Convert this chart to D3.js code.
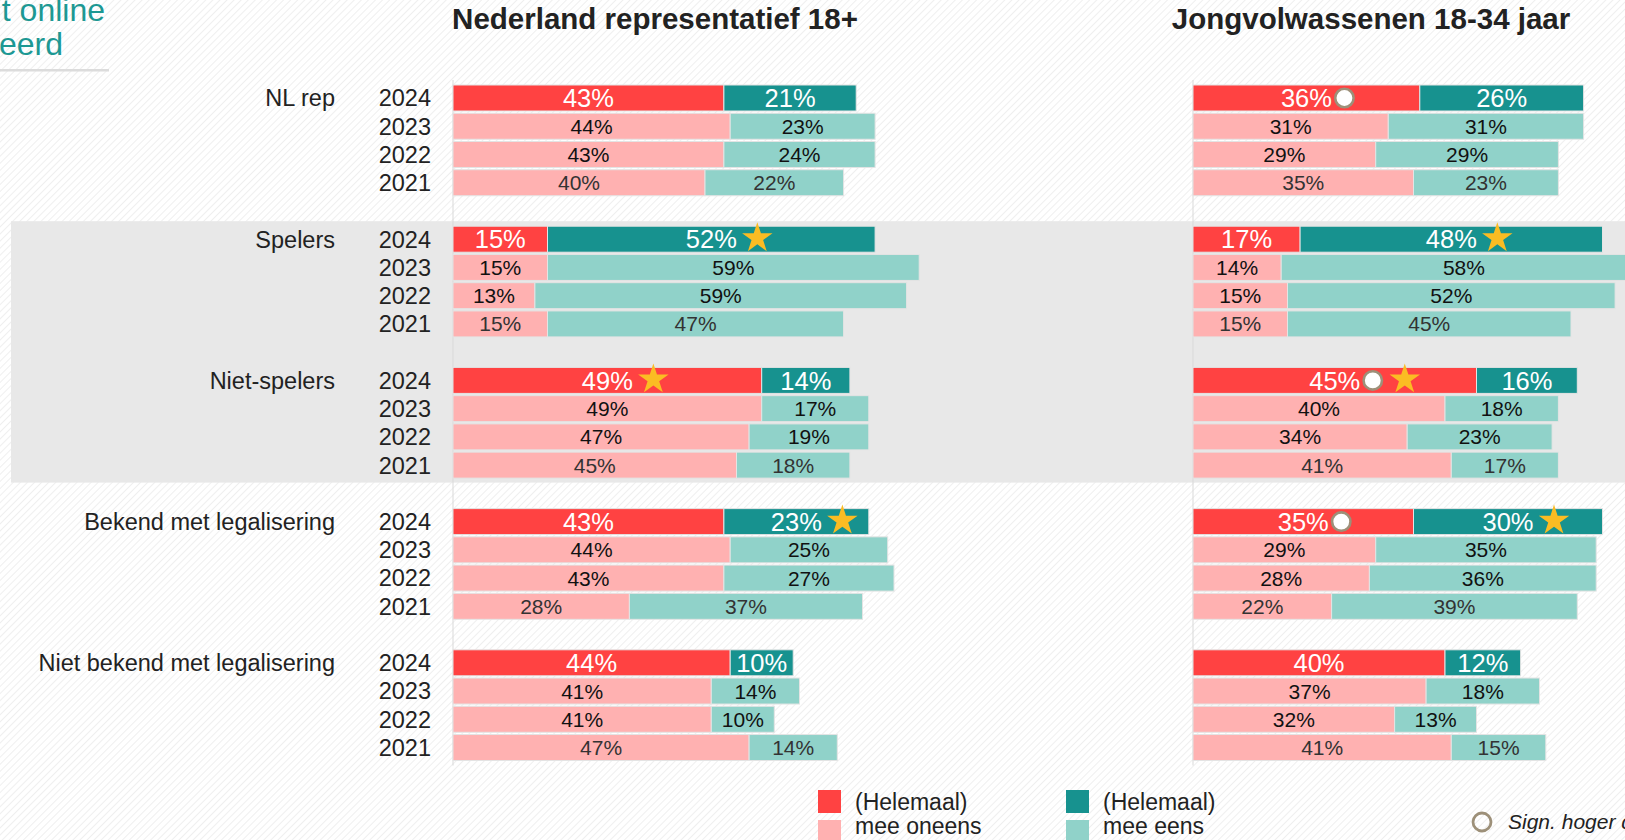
<!DOCTYPE html>
<html>
<head>
<meta charset="utf-8">
<script src="https://cdn.jsdelivr.net/npm/d3@7/dist/d3.min.js"></script>
<style>
  html, body { margin: 0; padding: 0; background: #fff; overflow: hidden; }
  svg { display: block; font-family: "Liberation Sans", Arial, sans-serif; }
</style>
</head>
<body>
<svg id="chart" width="1625" height="840"></svg>
<script>
// Stellingen per doelgroep, vier meetjaren
const groups = ["NL rep", "Spelers", "Niet-spelers", "Bekend met legalisering", "Niet bekend met legalisering"];
const years = ["2024", "2023", "2022", "2021"];
const panelTitles = ["Nederland representatief 18+", "Jongvolwassenen 18-34 jaar"];

// Nederland representatief 18+ : (helemaal) mee oneens / (helemaal) mee eens
const nlOneens = [[43, 44, 43, 40], [15, 15, 13, 15], [49, 49, 47, 45], [43, 44, 43, 28], [44, 41, 41, 47]];
const nlEens   = [[21, 23, 24, 22], [52, 59, 59, 47], [14, 17, 19, 18], [23, 25, 27, 37], [10, 14, 10, 14]];

// Jongvolwassenen 18-34 jaar
const jvOneens = [[36, 31, 29, 35], [17, 14, 15, 15], [45, 40, 34, 41], [35, 29, 28, 22], [40, 37, 32, 41]];
const jvEens   = [[26, 31, 29, 23], [48, 58, 52, 45], [16, 18, 23, 17], [30, 35, 36, 39], [12, 18, 13, 15]];

// Significantie-markeringen op de 2024-balken (groep, deel)
const nlStars   = [[1, "eens"], [2, "oneens"], [3, "eens"]];
const nlCircles = [];
const jvStars   = [[1, "eens"], [2, "oneens"], [3, "eens"]];
const jvCircles = [[0, "oneens"], [2, "oneens"], [3, "oneens"]];

const legendLabels = [["(Helemaal)", "mee oneens"], ["(Helemaal)", "mee eens"]];
const circleLegend = "Sign. hoger dan 2023";

const C = {
  darkRed: "#ff4242", lightRed: "#ffb1b1",
  darkTeal: "#17928f", lightTeal: "#90d2c9",
  text: "#222", band: "#e8e8e8", axis: "#d9d9d9",
  star: "#fbbc23", ring: "#9d9079", heading: "#1d9893"
};

const svg = d3.select("#chart");

// Achtergrond met fijne diagonale arcering
const defs = svg.append("defs");
const pat = defs.append("pattern")
  .attr("id", "hatch").attr("patternUnits", "userSpaceOnUse")
  .attr("width", 5).attr("height", 5)
  .attr("patternTransform", "rotate(45)");
pat.append("rect").attr("width", 5).attr("height", 5).attr("fill", "#ffffff");
pat.append("line").attr("x1", 0).attr("y1", 0).attr("x2", 0).attr("y2", 5)
  .attr("stroke", "#ececec").attr("stroke-width", 1.6);
svg.append("rect").attr("width", 1625).attr("height", 840).attr("fill", "url(#hatch)");

// Kop linksboven (valt deels buiten beeld)
svg.append("text").attr("x", 105).attr("y", 21).attr("text-anchor", "end")
  .attr("font-size", 32).attr("fill", C.heading).text("t online");
svg.append("text").attr("x", 63).attr("y", 55).attr("text-anchor", "end")
  .attr("font-size", 32).attr("fill", C.heading).text("eerd");
svg.append("rect").attr("x", 0).attr("y", 69).attr("width", 109).attr("height", 2.5).attr("fill", "#dcdcdc");

// Schalen
const rowY = d3.scaleLinear().domain([0, 1]).range([85, 85 + 28.24]);
const barH = 26;
const rowIndex = (g, i) => g * 5 + i;
const xScales = [
  d3.scaleLinear().domain([0, 100]).range([453, 453 + 630]),
  d3.scaleLinear().domain([0, 100]).range([1193, 1193 + 630])
];

// Grijze band achter spelers / niet-spelers
svg.append("rect")
  .attr("x", 11).attr("y", rowY(rowIndex(1, 0)) - 5)
  .attr("width", 1625 - 11)
  .attr("height", rowY(rowIndex(3, 0)) - 26 - (rowY(rowIndex(1, 0)) - 5))
  .attr("fill", C.band);

// Verticale nullijnen
xScales.forEach(x => {
  svg.append("line")
    .attr("x1", x(0)).attr("x2", x(0))
    .attr("y1", 80).attr("y2", rowY(rowIndex(4, 3)) + barH + 5)
    .attr("stroke", C.axis).attr("stroke-width", 1);
});

// Paneeltitels
[655, 1371].forEach((cx, p) => {
  svg.append("text").attr("x", cx).attr("y", 29).attr("text-anchor", "middle")
    .attr("font-size", 29.5).attr("font-weight", "bold").attr("fill", C.text)
    .text(panelTitles[p]);
});

// Groeps- en jaarlabels
groups.forEach((g, gi) => {
  const yc = rowY(rowIndex(gi, 0)) + barH / 2;
  svg.append("text").attr("x", 335).attr("y", yc + 0.358 * 23.5)
    .attr("text-anchor", "end").attr("font-size", 23.5).attr("fill", C.text).text(g);
  years.forEach((yr, yi) => {
    const ycy = rowY(rowIndex(gi, yi)) + barH / 2;
    svg.append("text").attr("x", 431).attr("y", ycy + 0.358 * 23.5)
      .attr("text-anchor", "end").attr("font-size", 23.5).attr("fill", C.text).text(yr);
  });
});

// Ster-vorm
function starPath(cx, cy, R) {
  const r = R * 0.382;
  const pts = [];
  for (let k = 0; k < 10; k++) {
    const a = -Math.PI / 2 + k * Math.PI / 5;
    const rad = k % 2 === 0 ? R : r;
    pts.push([cx + rad * Math.cos(a), cy + rad * Math.sin(a)]);
  }
  return "M" + pts.map(p => p.join(",")).join("L") + "Z";
}

function drawPanel(p, oneens, eens, stars, circles) {
  const x = xScales[p];
  const layer = svg.append("g");
  groups.forEach((g, gi) => {
    years.forEach((yr, yi) => {
      const y = rowY(rowIndex(gi, yi));
      const is24 = yi === 0;
      const a = oneens[gi][yi], b = eens[gi][yi];
      const segs = [
        { part: "oneens", v0: 0, v1: a, val: a, fill: is24 ? C.darkRed : C.lightRed },
        { part: "eens", v0: a, v1: a + b, val: b, fill: is24 ? C.darkTeal : C.lightTeal }
      ];
      segs.forEach(s => {
        layer.append("rect")
          .attr("x", x(s.v0)).attr("y", y)
          .attr("width", x(s.v1) - x(s.v0)).attr("height", barH)
          .attr("fill", s.fill).attr("stroke", "#e4e4e4").attr("stroke-width", 1);
        const fs = is24 ? 25.5 : 21;
        const cx = (x(s.v0) + x(s.v1)) / 2;
        const t = layer.append("text")
          .attr("x", cx).attr("y", y + barH / 2 + 0.358 * fs)
          .attr("text-anchor", "middle").attr("font-size", fs)
          .attr("fill", is24 ? "#fff" : (yi === 3 ? "#333" : "#111"))
          .text(s.val + "%");
        if (is24) {
          let right = cx + t.node().getComputedTextLength() / 2;
          const yc = y + barH / 2;
          if (circles.some(m => m[0] === gi && m[1] === s.part)) {
            layer.append("circle").attr("cx", right + 12.5).attr("cy", yc).attr("r", 9.2)
              .attr("fill", "#fff").attr("stroke", C.ring).attr("stroke-width", 2.6);
            right += 24;
          }
          if (stars.some(m => m[0] === gi && m[1] === s.part)) {
            layer.append("path").attr("d", starPath(right + 6 + 14.5, yc - 1, 16))
              .attr("fill", C.star);
          }
        }
      });
    });
  });
}

drawPanel(0, nlOneens, nlEens, nlStars, nlCircles);
drawPanel(1, jvOneens, jvEens, jvStars, jvCircles);

// Legenda
const legend = svg.append("g");
[[818, C.darkRed, C.lightRed], [1066, C.darkTeal, C.lightTeal]].forEach(([lx, c1, c2], i) => {
  legend.append("rect").attr("x", lx).attr("y", 790).attr("width", 23).attr("height", 23).attr("fill", c1);
  legend.append("rect").attr("x", lx).attr("y", 820).attr("width", 23).attr("height", 23).attr("fill", c2);
  legend.append("text").attr("x", lx + 37).attr("y", 810).attr("font-size", 23).attr("fill", C.text).text(legendLabels[i][0]);
  legend.append("text").attr("x", lx + 37).attr("y", 834).attr("font-size", 23).attr("fill", C.text).text(legendLabels[i][1]);
});
legend.append("circle").attr("cx", 1482).attr("cy", 822).attr("r", 9).attr("fill", "none")
  .attr("stroke", C.ring).attr("stroke-width", 2.8);
legend.append("text").attr("x", 1508).attr("y", 829).attr("font-size", 21).attr("font-style", "italic")
  .attr("fill", C.text).text(circleLegend);
</script>
</body>
</html>
